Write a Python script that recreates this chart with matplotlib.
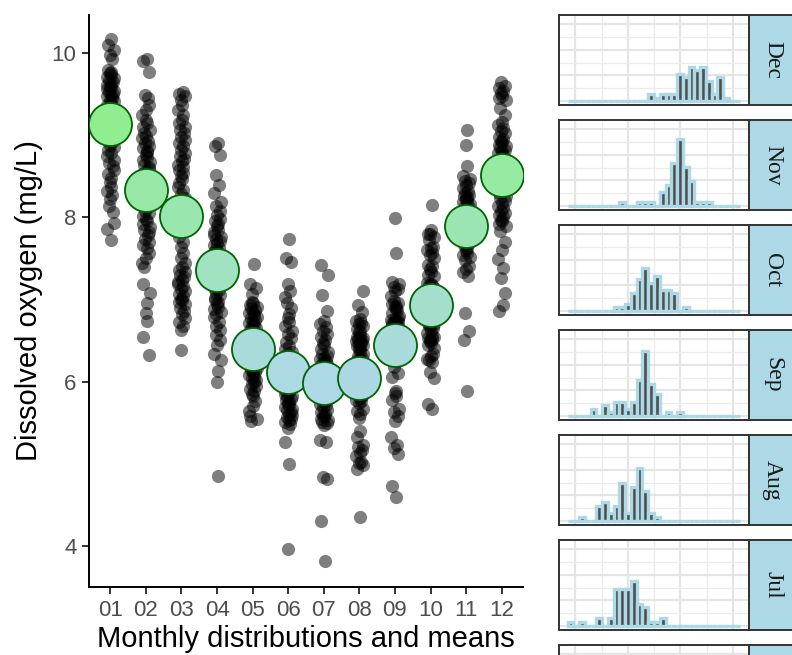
import numpy as np
import matplotlib
matplotlib.use('Agg')
from matplotlib import pyplot as plt
from matplotlib.colors import to_rgb

plt.rcParams['font.family'] = ['Liberation Sans', 'DejaVu Sans']

# month labels
months = ['01', '02', '03', '04', '05', '06', '07', '08', '09', '10', '11', '12']
month_names = ['Jan', 'Feb', 'Mar', 'Apr', 'May', 'Jun',
               'Jul', 'Aug', 'Sep', 'Oct', 'Nov', 'Dec']

# dissolved oxygen readings (mg/L), one list per month
do_jan = [10.17, 10.10, 10.03, 9.97, 9.92,
          9.61, 9.63, 9.65, 9.67, 9.69, 9.71, 9.73, 9.75, 9.77, 9.79,
          9.41, 9.43, 9.45, 9.47, 9.49, 9.50, 9.52, 9.54, 9.56, 9.58, 9.59,
          9.22, 9.25, 9.28, 9.31, 9.33, 9.36, 9.39,
          9.02, 9.05, 9.08, 9.11, 9.13, 9.16, 9.19,
          8.82, 8.85, 8.88, 8.91, 8.94, 8.97,
          8.62, 8.66, 8.70, 8.74, 8.78,
          8.43, 8.48, 8.53, 8.58,
          8.22, 8.27, 8.32, 8.37,
          8.06, 8.14,
          7.93, 7.86, 7.72]
do_feb = [9.93, 9.90, 9.77, 9.49, 9.45,
          9.24, 9.30, 9.36,
          9.02, 9.06, 9.10, 9.14, 9.18,
          8.81, 8.84, 8.87, 8.90, 8.93, 8.96, 8.99,
          8.61, 8.64, 8.67, 8.70, 8.73, 8.76, 8.79,
          8.41, 8.44, 8.47, 8.50, 8.53, 8.56, 8.59,
          8.22, 8.25, 8.28, 8.32, 8.35, 8.38,
          8.02, 8.05, 8.08, 8.12, 8.15, 8.18,
          7.82, 7.85, 7.88, 7.92, 7.95, 7.98,
          7.62, 7.66, 7.70, 7.74, 7.78,
          7.44, 7.50, 7.56,
          7.39, 7.08, 7.19, 6.95, 6.84,
          6.74, 6.54, 6.32]
do_mar = [9.52, 9.50, 9.47, 9.43,
          9.24, 9.30, 9.36,
          9.02, 9.06, 9.10, 9.14, 9.18,
          8.82, 8.86, 8.90, 8.94, 8.98,
          8.61, 8.64, 8.68, 8.71, 8.75, 8.78,
          8.42, 8.46, 8.50, 8.54, 8.58,
          8.23, 8.28, 8.33, 8.37,
          8.04, 8.10, 8.16,
          7.84, 7.90, 7.96,
          7.64, 7.70, 7.76,
          7.44, 7.50, 7.56,
          7.21, 7.24, 7.27, 7.30, 7.33, 7.36, 7.39,
          7.01, 7.04, 7.07, 7.10, 7.13, 7.16, 7.19,
          6.82, 6.86, 6.90, 6.94, 6.97, 6.99,
          6.63, 6.68, 6.72, 6.77,
          6.38]
do_apr = [8.90, 8.86, 8.76, 8.51, 8.39, 8.29,
          8.03, 8.08, 8.13, 8.18,
          7.82, 7.85, 7.89, 7.92, 7.95, 7.98,
          7.61, 7.63, 7.66, 7.68, 7.71, 7.73, 7.76, 7.78,
          7.41, 7.43, 7.46, 7.48, 7.51, 7.53, 7.56, 7.58,
          7.21, 7.23, 7.26, 7.28, 7.31, 7.33, 7.36, 7.38,
          7.02, 7.05, 7.08, 7.11, 7.14, 7.17, 7.19,
          6.82, 6.85, 6.88, 6.91, 6.94, 6.97, 6.99,
          6.63, 6.68, 6.73, 6.78,
          6.45, 6.51, 6.57,
          6.26, 6.34,
          6.13, 5.99, 4.85]
do_may = [7.43, 7.19, 7.14, 7.06,
          6.81, 6.83, 6.85, 6.87, 6.89, 6.91, 6.93, 6.95, 6.97,
          6.61, 6.63, 6.65, 6.67, 6.69, 6.71, 6.73, 6.75, 6.77, 6.79,
          6.42, 6.44, 6.46, 6.48, 6.50, 6.52, 6.54, 6.56, 6.58,
          6.22, 6.24, 6.26, 6.28, 6.30, 6.32, 6.34, 6.36, 6.38,
          6.02, 6.04, 6.06, 6.08, 6.10, 6.12, 6.14, 6.16, 6.18,
          5.82, 5.85, 5.88, 5.91, 5.94, 5.97, 5.99,
          5.64, 5.70, 5.76,
          5.52, 5.55, 5.58]
do_jun = [7.74, 7.50, 7.46, 7.19, 7.10, 7.03,
          6.82, 6.89, 6.96,
          6.62, 6.67, 6.72, 6.77,
          6.43, 6.48, 6.53, 6.58,
          6.21, 6.24, 6.27, 6.30, 6.33, 6.36, 6.39,
          6.01, 6.03, 6.05, 6.07, 6.09, 6.11, 6.13, 6.15, 6.17, 6.19,
          5.81, 5.83, 5.85, 5.87, 5.89, 5.91, 5.93, 5.95, 5.97, 5.99, 5.90,
          5.61, 5.63, 5.65, 5.67, 5.69, 5.71, 5.73, 5.75, 5.77, 5.79,
          5.44, 5.48, 5.51, 5.53, 5.55, 5.57, 5.59,
          5.26, 5.00, 3.96]
do_jul = [3.82, 4.30, 4.81, 4.84, 5.26, 5.29,
          5.47, 5.49, 5.51, 5.53, 5.55, 5.57, 5.59, 5.61, 5.63, 5.65,
          5.69, 5.71, 5.73, 5.75, 5.77, 5.79, 5.81, 5.83, 5.85, 5.87,
          5.91, 5.93, 5.95, 5.97, 5.99, 6.01, 6.03, 6.05, 6.07, 6.09,
          6.13, 6.14, 6.16, 6.18, 6.20, 6.21, 6.23, 6.25, 6.27, 6.29, 6.31, 6.33,
          6.36, 6.40, 6.44, 6.47, 6.50, 6.54,
          6.58, 6.62, 6.66, 6.70, 6.74,
          6.86, 7.05, 7.30, 7.42]
do_aug = [4.35,
          4.93, 4.98, 5.01, 5.02,
          5.09, 5.13, 5.17, 5.20, 5.23,
          5.33, 5.40,
          5.56, 5.60, 5.64, 5.67,
          5.74, 5.76, 5.78, 5.80, 5.82, 5.84, 5.85, 5.87, 5.88, 5.89,
          6.03, 6.09,
          6.15, 6.19, 6.22, 6.25, 6.27, 6.29, 6.31, 6.33, 6.24,
          6.36, 6.39, 6.41, 6.43, 6.45, 6.46, 6.47, 6.49, 6.50, 6.51, 6.52, 6.53, 6.54, 6.55,
          6.60, 6.62, 6.64, 6.68, 6.70, 6.71, 6.74, 6.76,
          6.85, 6.93, 7.10]
do_sep = [4.60, 4.73,
          5.12, 5.19, 5.23, 5.33,
          5.52, 5.58, 5.63, 5.67,
          5.77, 5.82, 5.86, 5.89,
          6.05, 6.10,
          6.18, 6.25, 6.30, 6.33,
          6.39, 6.42, 6.45, 6.47, 6.49, 6.51, 6.52, 6.53, 6.54, 6.55,
          6.57, 6.59, 6.61, 6.62, 6.64, 6.65, 6.67, 6.68, 6.69, 6.70,
          6.71, 6.72, 6.73, 6.74, 6.75, 6.76, 6.77, 6.66,
          6.80, 6.84, 6.88, 6.91, 6.92, 6.94, 6.96, 6.98, 6.87,
          7.04, 7.10, 7.12, 7.15, 7.19, 7.21,
          7.57, 7.99]
do_oct = [5.66, 5.73, 6.04, 6.11,
          6.24, 6.28, 6.31, 6.33, 6.26,
          6.41, 6.44, 6.47, 6.50, 6.52, 6.53, 6.54, 6.49, 6.55,
          6.59, 6.62, 6.65, 6.68, 6.70, 6.71, 6.73, 6.74, 6.75, 6.76, 6.77, 6.69,
          6.84, 6.88, 6.91, 6.94, 6.96, 6.98, 6.93, 6.90,
          7.04, 7.08, 7.11, 7.14, 7.16, 7.18, 7.20, 7.19, 7.13, 7.17,
          7.28, 7.30, 7.33, 7.37, 7.40, 7.42,
          7.50, 7.54, 7.57, 7.60, 7.62, 7.64,
          7.72, 7.76, 7.80, 7.84, 7.79,
          8.15]
do_nov = [5.88, 6.50, 6.62, 6.84,
          7.29, 7.33, 7.37, 7.41,
          7.48, 7.51, 7.54, 7.57, 7.60, 7.63,
          7.66, 7.68, 7.70, 7.72, 7.74, 7.75, 7.77, 7.79, 7.81, 7.83, 7.85, 7.86,
          7.88, 7.89, 7.90, 7.91, 7.93, 7.94, 7.95, 7.96, 7.97, 7.98,
          7.99, 8.00, 8.01, 8.02, 8.03, 8.04, 8.05, 8.06, 8.08,
          8.10, 8.12, 8.14, 8.16, 8.18, 8.20, 8.22, 8.24, 8.26, 8.27, 8.29,
          8.32, 8.35, 8.39, 8.42, 8.44, 8.46, 8.50,
          8.62, 8.88, 9.06]
do_dec = [6.93, 6.86, 7.08, 7.26, 7.38, 7.49, 7.60, 7.70, 7.83,
          7.89, 7.92, 7.95, 7.97, 8.00, 8.03, 8.05, 8.08,
          8.11, 8.14, 8.17, 8.20, 8.23, 8.26, 8.29,
          8.32, 8.34, 8.36, 8.38, 8.40, 8.42, 8.44, 8.47, 8.49, 8.52,
          8.54, 8.56, 8.59, 8.61, 8.63, 8.66, 8.68, 8.71, 8.73,
          8.76, 8.78, 8.80, 8.82, 8.84, 8.86, 8.88, 8.91, 8.93, 8.95,
          8.98, 9.02, 9.05, 9.09, 9.12, 9.16,
          9.24, 9.33,
          9.42, 9.45, 9.48, 9.51, 9.54, 9.57, 9.60,
          9.65]

do_by_month = [do_jan, do_feb, do_mar, do_apr, do_may, do_jun,
               do_jul, do_aug, do_sep, do_oct, do_nov, do_dec]

# fixed horizontal spread for the points
jitter = [0.03, -0.07, 0.09, -0.02, 0.05, -0.10, 0.01, 0.08, -0.04, 0.11, -0.08, 0.02, -0.01]

W, H = 792, 655


def box(left, top, width, height):
    return [left / W, 1 - (top + height) / H, width / W, height / H]


fig = plt.figure(figsize=(W / 100, H / 100), dpi=100)

# left panel: points and monthly means
ax = fig.add_axes(box(89, 15, 434, 572))
means = [np.mean(v) for v in do_by_month]
low_col = np.array(to_rgb('lightblue'))
high_col = np.array(to_rgb('lightgreen'))
mmin, mmax = min(means), max(means)

for i, vals in enumerate(do_by_month):
    xs = [i + 1 + jitter[j % len(jitter)] for j in range(len(vals))]
    ax.scatter(xs, vals, s=90, color='black', alpha=0.5, linewidths=0, zorder=2)

for i, m in enumerate(means):
    t = (m - mmin) / (mmax - mmin)
    ax.scatter(i + 1, m, s=960, facecolor=low_col + t * (high_col - low_col),
               edgecolor='darkgreen', linewidth=1.3, zorder=3)

ax.set_xlim(0.4, 12.6)
ax.set_ylim(3.5, 10.46)
ax.set_xticks(range(1, 13))
ax.set_xticklabels(months)
ax.set_yticks([4, 6, 8, 10])
ax.spines['top'].set_visible(False)
ax.spines['right'].set_visible(False)
for side in ['left', 'bottom']:
    ax.spines[side].set_linewidth(1.4)
ax.tick_params(length=5, width=1.4, color='#333333', labelcolor='#4d4d4d',
               labelsize=16, pad=4)
ax.set_xlabel('Monthly distributions and means', fontsize=21, labelpad=3)
ax.set_ylabel('Dissolved oxygen (mg/L)', fontsize=21, labelpad=6)

# right column: one histogram per month, December at the top
allv = np.concatenate(do_by_month)
lo, hi = allv.min(), allv.max()
bw = (hi - lo) / 29
edges = lo - bw / 2 + bw * np.arange(31)
span = edges[-1] - edges[0]

for k, idx in enumerate(range(11, -1, -1)):
    top = 15 + 105 * k
    if top >= H:
        break
    hx = fig.add_axes(box(559, top, 190, 90))
    hx.hist(do_by_month[idx], bins=edges, density=True, color='#505050',
            edgecolor='lightblue', linewidth=2.4)
    hx.set_xlim(edges[0] - 0.05 * span, edges[-1] + 0.05 * span)
    hx.set_ylim(-0.08, 1.68)
    hx.set_xticks([4, 6, 8, 10])
    hx.set_xticks([5, 7, 9], minor=True)
    hx.set_yticks([0, 0.5, 1, 1.5])
    hx.set_yticks([0.25, 0.75, 1.25], minor=True)
    hx.set_axisbelow(True)
    hx.grid(which='major', color='#e5e5e5', linewidth=1.6)
    hx.grid(which='minor', color='#ebebeb', linewidth=0.9)
    hx.tick_params(which='both', length=0, labelbottom=False, labelleft=False)
    for s in hx.spines.values():
        s.set_color('#333333')
        s.set_linewidth(1.4)

    sx = fig.add_axes(box(749, top, 47, 90))
    sx.set_facecolor('lightblue')
    sx.set_xticks([])
    sx.set_yticks([])
    for s in sx.spines.values():
        s.set_color('#333333')
        s.set_linewidth(1.4)
    # the strip label only when it falls inside the picture
    if top + 45 + 20 < H:
        sx.text(0.5, 0.5, month_names[idx], rotation=-90, ha='center', va='center',
                family=['Liberation Serif', 'DejaVu Serif'], fontsize=17,
                color='#1a1a1a', transform=sx.transAxes)

fig.savefig('out.png', dpi=100)
